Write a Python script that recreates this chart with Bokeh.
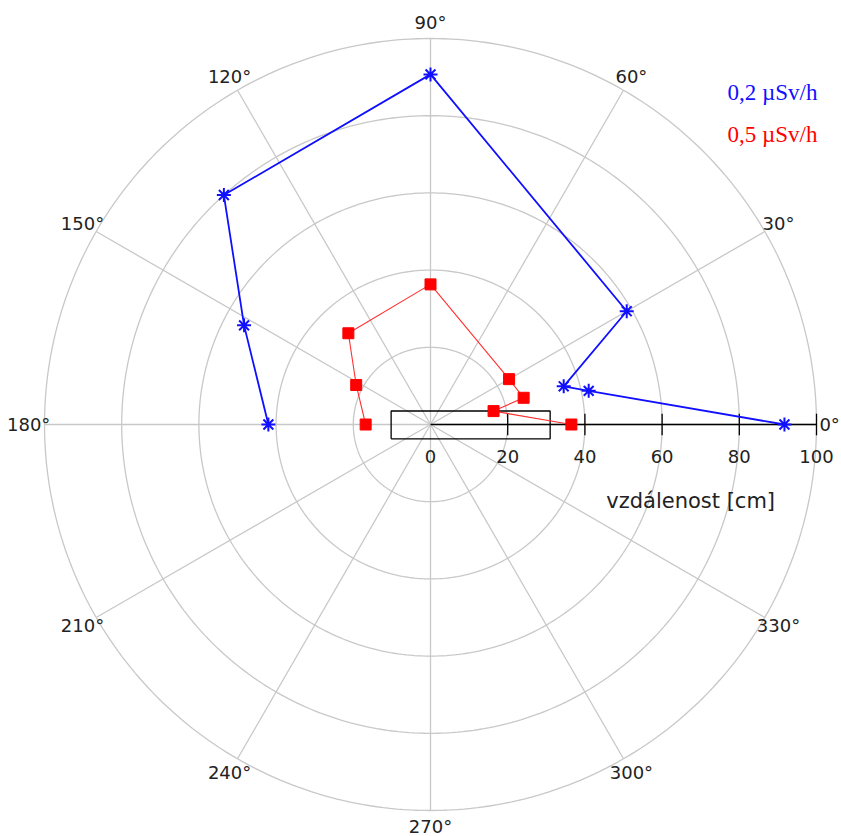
import numpy as np
from bokeh.plotting import figure
from bokeh.models import Range1d
from bokeh.core.properties import value
from bokeh.embed import file_html
from bokeh.resources import INLINE

# ---- data ----
angles_deg = [0, 12, 16, 30, 90, 132, 152, 180]
dist_02 = [91.7, 41.9, 35.9, 58.7, 90.7, 80.0, 54.7, 42.0]   # 0,2 µSv/h
dist_05 = [36.5, 16.7, 25.1, 23.5, 36.3, 31.8, 21.8, 16.8]   # 0,5 µSv/h
ring_radii = [20, 40, 60, 80, 100]
spoke_angles = list(range(0, 360, 30))
radial_ticks = [0, 20, 40, 60, 80, 100]
box_x = [-10.2, 31.0]
box_y = [-3.7, 3.5]
series_labels = ["0,2 µSv/h", "0,5 µSv/h"]
axis_title = "vzdálenost [cm]"

# ---- geometry ----
W, H = 841, 836
cx, cy = 430, 424          # centre in figure pixels
ppu = 3.86                 # pixels per cm
p = figure(width=W, height=H, output_backend="svg", toolbar_location=None,
           x_axis_type=None, y_axis_type=None, min_border=0,
           x_range=Range1d(-cx / ppu, (W - cx) / ppu),
           y_range=Range1d(-(H - cy) / ppu, cy / ppu))
p.outline_line_color = None
p.background_fill_color = "white"
p.grid.visible = False

grid_col = "#c8c8c8"
# rings
t = np.linspace(0, 2 * np.pi, 361)
p.multi_line([list(r * np.cos(t)) for r in ring_radii],
             [list(r * np.sin(t)) for r in ring_radii],
             line_color=grid_col, line_width=1.3)
# spokes
Rmax = ring_radii[-1]
p.multi_line([[0, Rmax * np.cos(np.radians(a))] for a in spoke_angles],
             [[0, Rmax * np.sin(np.radians(a))] for a in spoke_angles],
             line_color=grid_col, line_width=1.3)

# angle labels
lab_r = [103.4 if a == 0 else 104.1 for a in spoke_angles]
p.text([r * np.cos(np.radians(a)) for r, a in zip(lab_r, spoke_angles)],
       [r * np.sin(np.radians(a)) for r, a in zip(lab_r, spoke_angles)],
       text=[f"{a}°" for a in spoke_angles],
       text_align="center", text_baseline="middle",
       text_font=value("DejaVu Sans"), text_font_size="18px", text_color="#222222")

# radial axis
p.line([0, Rmax], [0, 0], line_color="black", line_width=1.3)
tk = [v for v in radial_ticks if v > 0]
p.segment(x0=tk, y0=[-2.8] * len(tk), x1=tk, y1=[2.8] * len(tk),
          line_color="black", line_width=1.3)
p.text(radial_ticks, [-8.3] * len(radial_ticks), text=[str(v) for v in radial_ticks],
       text_align="center", text_baseline="middle",
       text_font=value("DejaVu Sans"), text_font_size="18px", text_color="#222222")
p.text([67.4], [-19.7], text=[axis_title], text_align="center", text_baseline="middle",
       text_font=value("DejaVu Sans"), text_font_size="21px", text_color="#222222")

# box
p.line([box_x[0], box_x[1], box_x[1], box_x[0], box_x[0]],
       [box_y[0], box_y[0], box_y[1], box_y[1], box_y[0]],
       line_color="black", line_width=1.3)

# series
th = np.radians(angles_deg)
x2 = list(np.array(dist_02) * np.cos(th)); y2 = list(np.array(dist_02) * np.sin(th))
x5 = list(np.array(dist_05) * np.cos(th)); y5 = list(np.array(dist_05) * np.sin(th))
p.line(x5, y5, line_color="#ff3030", line_width=1.1)
p.scatter(x5, y5, marker="square", size=11, fill_color="red", line_color="red")
p.line(x2, y2, line_color="#1010ff", line_width=1.8)
p.scatter(x2, y2, marker="asterisk", size=14, line_color="#1010ff", line_width=2)

# legend texts
p.text([88.6], [86.0], text=[series_labels[0]], text_align="center", text_baseline="middle",
       text_font=value("Liberation Serif"), text_font_size="23px", text_color="#1010ff")
p.text([88.6], [75.1], text=[series_labels[1]], text_align="center", text_baseline="middle",
       text_font=value("Liberation Serif"), text_font_size="23px", text_color="red")

open("out.html", "w").write(file_html(p, INLINE))
